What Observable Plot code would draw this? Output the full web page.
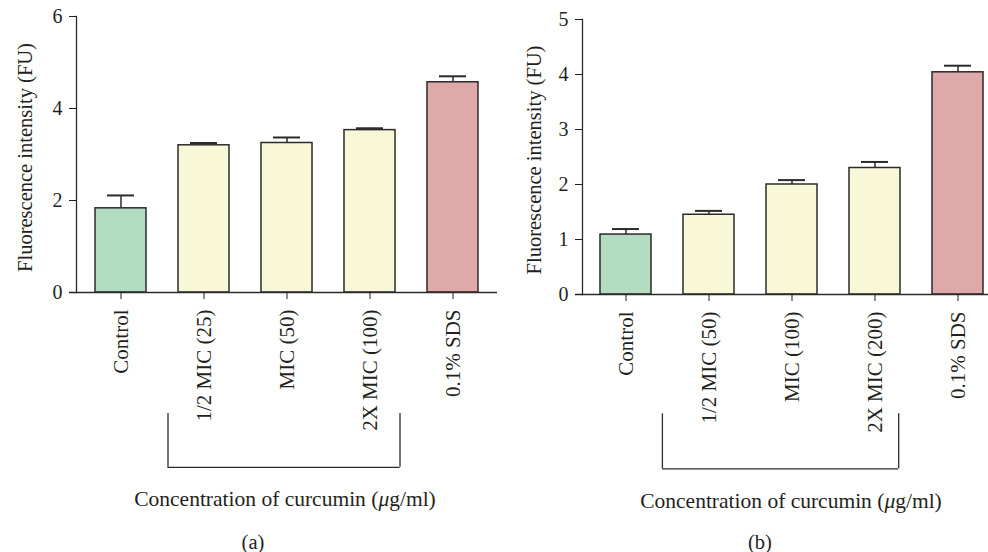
<!DOCTYPE html>
<html><head><meta charset="utf-8">
<script src="https://cdn.jsdelivr.net/npm/d3@7"></script>
<script src="https://cdn.jsdelivr.net/npm/@observablehq/plot@0.6"></script>
<style>
html,body{margin:0;padding:0;background:#fff;overflow:hidden;width:988px;height:552px}
#wrap{position:relative;width:988px;height:552px;font-family:"Liberation Serif",serif;color:#231f20;overflow:hidden}
.panel{position:absolute;top:0;height:552px}
.panel svg{max-width:none !important;display:block}
.lab{position:absolute;font-size:21.5px;transform:translate(-50%,-50%);white-space:nowrap;line-height:1}
.cap{position:absolute;font-size:20.5px;transform:translate(-50%,-50%);white-space:nowrap;line-height:1}
</style>
</head><body>
<div id="wrap">
  <div id="pa" class="panel" style="left:0;width:497px"></div>
  <div id="pb" class="panel" style="left:497px;width:503px"></div>
  <div class="lab" style="left:285px;top:500px">Concentration of curcumin (<i>μ</i>g/ml)</div>
  <div class="lab" style="left:791px;top:502px">Concentration of curcumin (<i>μ</i>g/ml)</div>
  <div class="cap" style="left:253px;top:542px">(a)</div>
  <div class="cap" style="left:760px;top:542px">(b)</div>
</div>
<script>
// ---- data ----
const categoriesA = ["Control", "1/2 MIC (25)", "MIC (50)", "2X MIC (100)", "0.1% SDS"];
const meansA = [1.83, 3.20, 3.25, 3.53, 4.57];
const errorsA = [0.28, 0.05, 0.12, 0.04, 0.13];
const categoriesB = ["Control", "1/2 MIC (50)", "MIC (100)", "2X MIC (200)", "0.1% SDS"];
const meansB = [1.09, 1.45, 2.00, 2.30, 4.04];
const errorsB = [0.10, 0.07, 0.08, 0.11, 0.12];
const groups = ["control", "curcumin", "curcumin", "curcumin", "sds"];
const groupColors = ["#b3dcc0", "#f8f8d8", "#e0a9a9"];
const ticksA = [0, 2, 4, 6];
const ticksB = [0, 1, 2, 3, 4, 5];
const yLabel = "Fluorescence intensity (FU)";

function makePanel(o) {
  const data = o.cats.map((c, i) => ({cat: c, mean: o.means[i], err: o.errs[i], group: groups[i]}));
  const ink = "#2b2b2b";
  return Plot.plot({
    width: o.width, height: 552,
    marginLeft: o.marginLeft, marginRight: 0, marginTop: o.marginTop, marginBottom: o.marginBottom,
    style: {fontFamily: "Liberation Serif, serif", color: "#231f20", background: "transparent", overflow: "visible"},
    x: {type: "band", domain: o.cats, paddingInner: 0.39, paddingOuter: o.paddingOuter},
    y: {domain: [0, o.yMax]},
    color: {domain: ["control", "curcumin", "sds"], range: groupColors},
    marks: [
      Plot.barY(data, {x: "cat", y: "mean", fill: "group", stroke: ink, strokeWidth: 1.5}),
      Plot.ruleX(data, {x: "cat", y1: "mean", y2: d => d.mean + d.err, stroke: ink, strokeWidth: 1.5}),
      Plot.tickY(data, {x: "cat", y: d => d.mean + d.err, insetLeft: 12, insetRight: 12, stroke: ink, strokeWidth: 2}),
      Plot.ruleY([0], {stroke: ink, strokeWidth: 1.3, insetLeft: -7}),
      Plot.frame({anchor: "left", stroke: ink, strokeWidth: 1.3}),
      Plot.axisY({ticks: o.ticks, tickSize: 7, tickPadding: 7, fontSize: 20, label: null, tickFormat: d3.format("d")}),
      Plot.axisX({tickRotate: -90, tickSize: 7, tickPadding: 10, fontSize: 21, label: null}),
      Plot.text([yLabel], {text: d => d, frameAnchor: "left", textAnchor: "middle", rotate: -90, dx: o.labelDx, dy: 3, fontSize: 20.5, fill: "#231f20"}),
      // bracket under the curcumin concentrations
      Plot.ruleX([o.bracket[0]], {x: d => d, y1: o.bracketY[0], y2: o.bracketY[1], dx: o.bracketDx[0], stroke: ink, strokeWidth: 1.3}),
      Plot.ruleX([o.bracket[1]], {x: d => d, y1: o.bracketY[0], y2: o.bracketY[1], dx: o.bracketDx[1], stroke: ink, strokeWidth: 1.3}),
      Plot.ruleY([o.bracketY[1]], {x1: () => o.bracket[0], x2: () => o.bracket[1], insetLeft: o.bracketInset[0], insetRight: o.bracketInset[1], stroke: ink, strokeWidth: 1.3})
    ]
  });
}

document.getElementById("pa").append(makePanel({
  cats: categoriesA, means: meansA, errs: errorsA, yMax: 6, ticks: ticksA,
  width: 497, marginLeft: 76, marginTop: 16, marginBottom: 260, paddingOuter: 0.223, labelDx: -51,
  bracket: ["1/2 MIC (25)", "2X MIC (100)"], bracketY: [-2.63, -3.80], bracketDx: [-36, 30], bracketInset: [-10.6, -4.6]
}));
document.getElementById("pb").append(makePanel({
  cats: categoriesB, means: meansB, errs: errorsB, yMax: 5, ticks: ticksB,
  width: 503, marginLeft: 85, marginTop: 19, marginBottom: 258, paddingOuter: 0.2, labelDx: -48,
  bracket: ["1/2 MIC (50)", "2X MIC (200)"], bracketY: [-2.17, -3.17], bracketDx: [-46.6, 23.7], bracketInset: [-21, 1.8]
}));
</script>
</body></html>
